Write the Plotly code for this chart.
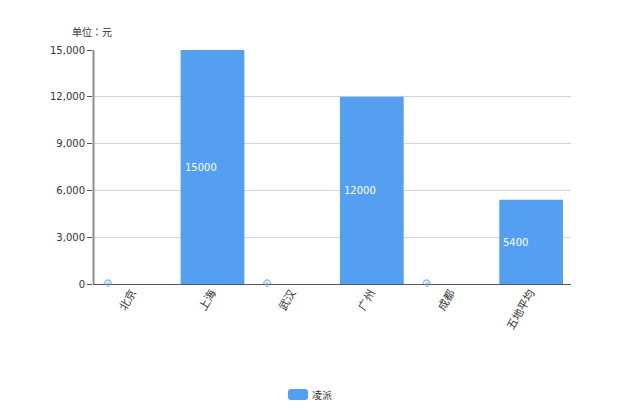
import plotly.graph_objects as go

categories = ["北京", "上海", "武汉", "广州", "成都", "五地平均"]
values = [0, 15000, 0, 12000, 0, 5400]
y_ticks = [0, 3000, 6000, 9000, 12000, 15000]
y_tick_labels = ["0", "3,000", "6,000", "9,000", "12,000", "15,000"]
series_name = "凌派"
unit_label = "单位：元"

BAR = "#559ff2"
FONT = "DejaVu Sans, Noto Sans CJK JP, sans-serif"
OFF = 8  # default page margin of the body
W, H = 620 - OFF, 413 - OFF
L, R, T, B = 93 - OFF, 571 - OFF, 50 - OFF, 284 - OFF

def px(x): return (x - OFF - L) / (R - L)
def py(y): return (B - (y - OFF)) / (B - T)

fig = go.Figure(go.Bar(x=categories, y=values, name=series_name, width=0.8,
                       marker=dict(color=BAR, line=dict(width=0)),
                       showlegend=False, cliponaxis=False))
# Legend entry only: its square swatch is transparent, the rounded swatch is a shape below.
fig.add_trace(go.Bar(x=[None], y=[None], name=series_name, showlegend=True,
                     marker=dict(color="rgba(0,0,0,0)", line=dict(width=0))))

for c, v in zip(categories, values):
    if v:
        fig.add_annotation(x=c, y=v / 2, xref="x", yref="y", text=str(v), showarrow=False,
                           xanchor="left", xshift=-30, yshift=-0.5, yanchor="middle",
                           font=dict(family=FONT, size=10, color="#ffffff"))
    else:
        fig.add_shape(type="circle", xref="x", yref="y", xsizemode="pixel", ysizemode="pixel",
                      xanchor=c, yanchor=v, x0=-28.5, x1=-21.5, y0=-4, y1=4,
                      fillcolor="#eaf3fe", line=dict(color="#8fc2fa", width=1.5), layer="above")
        fig.add_annotation(x=c, y=v, xref="x", yref="y", text=str(v), showarrow=False,
                           xanchor="center", xshift=-25, yanchor="middle",
                           font=dict(family=FONT, size=6, color="#559ff2"))

fig.add_annotation(x=px(70), y=py(32), xref="paper", yref="paper", text=unit_label, showarrow=False,
                   xanchor="left", yanchor="middle",
                   font=dict(family=FONT, size=10, color="#333333"))

fig.update_layout(
    width=W, height=H, autosize=False,
    margin=dict(l=L, r=W - R, t=T, b=H - B, pad=0),
    paper_bgcolor="white", plot_bgcolor="white",
    font=dict(family=FONT, size=10, color="#333333"),
    barmode="overlay",
    showlegend=True,
    legend=dict(xref="container", yref="container", orientation="h",
                x=(272 - OFF) / W, xanchor="left",
                y=(H - (395 - OFF)) / H, yanchor="middle",
                bgcolor="rgba(0,0,0,0)", font=dict(family=FONT, size=10, color="#333333")),
    xaxis=dict(type="category", categoryorder="array", categoryarray=categories,
               tickangle=-60, ticks="", showgrid=False, showline=True, linecolor="#555555",
               linewidth=1, tickfont=dict(size=11, color="#333333"), range=[-0.5, 5.5],
               ticklabelstandoff=-3, ticklabelshift=-1),
    yaxis=dict(range=[0, 15000], tickvals=y_ticks, ticktext=y_tick_labels, ticks="outside",
               ticklen=5, tickcolor="#555555", tickwidth=1, showline=False,
               gridcolor="#d4d4d4", gridwidth=1, zeroline=False,
               tickfont=dict(size=10, color="#333333")),
)

# vertical axis line, slightly thicker and inside the plot edge
fig.add_shape(type="line", xref="paper", yref="paper", x0=px(93.5), x1=px(93.5), y0=py(284), y1=py(50),
              line=dict(color="#8c8c8c", width=2), layer="above")

# rounded legend swatch
x0, x1, y0, y1 = px(288), px(308), py(400), py(389)
rx, ry = 3 / (R - L), 3 / (B - T)
path = (f"M {x0+rx} {y0} L {x1-rx} {y0} Q {x1} {y0} {x1} {y0+ry} L {x1} {y1-ry} Q {x1} {y1} {x1-rx} {y1} "
        f"L {x0+rx} {y1} Q {x0} {y1} {x0} {y1-ry} L {x0} {y0+ry} Q {x0} {y0} {x0+rx} {y0} Z")
fig.add_shape(type="path", xref="paper", yref="paper", path=path,
              fillcolor=BAR, line=dict(width=0), layer="above")

fig.write_html("out.html")
